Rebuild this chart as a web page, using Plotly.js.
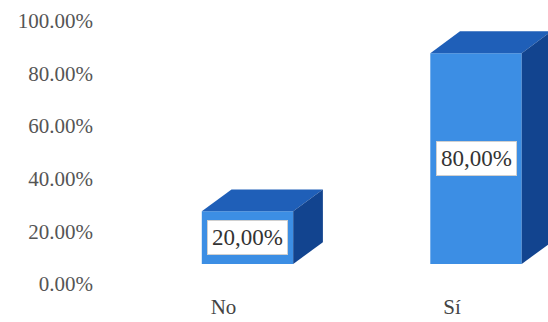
<!DOCTYPE html>
<html>
<head>
<meta charset="utf-8">
<script src="https://cdn.plot.ly/plotly-3.0.1.min.js"></script>
<style>html,body{margin:0;padding:0;background:#fff;}#chart{width:548px;height:322px;}</style>
</head>
<body>
<div id="chart"></div>
<script>
// Data
const categories = ['No', 'Sí'];
const values = [0.20, 0.80];
const valueLabels = ['20,00%', '80,00%'];

// Styling / 3D look
const barWidth = 0.4;
const depthX = 0.13;   // category units
const depthY = 0.083;  // value units
const frontColor = '#3c8ee4';
const topColor = '#1f5fb8';
const sideColor = '#12448f';

const xIdx = categories.map((c, i) => i);

const shapes = [];
xIdx.forEach((i) => {
  const v = values[i];
  const x0 = i - barWidth / 2, x1 = i + barWidth / 2;
  shapes.push({
    type: 'path', xref: 'x', yref: 'y', layer: 'above',
    path: `M ${x0} ${v} L ${x1} ${v} L ${x1 + depthX} ${v + depthY} L ${x0 + depthX} ${v + depthY} Z`,
    fillcolor: topColor, line: {width: 0}
  });
  shapes.push({
    type: 'path', xref: 'x', yref: 'y', layer: 'above',
    path: `M ${x1} 0 L ${x1} ${v} L ${x1 + depthX} ${v + depthY} L ${x1 + depthX} ${depthY} Z`,
    fillcolor: sideColor, line: {width: 0}
  });
});

const annotations = xIdx.map((i) => ({
  x: i, y: values[i] / 2, xref: 'x', yref: 'y',
  text: valueLabels[i], showarrow: false,
  bgcolor: '#ffffff', bordercolor: '#d0d0d0', borderwidth: 1, borderpad: 4,
  font: {family: 'Liberation Serif, serif', size: 23, color: '#333333'}
}));

const trace = {
  type: 'bar',
  x: xIdx,
  y: values,
  width: barWidth,
  marker: {color: frontColor, line: {width: 0}},
  hoverinfo: 'skip'
};

const layout = {
  width: 548, height: 322,
  margin: {l: 100, r: 0, t: 0, b: 58},
  paper_bgcolor: '#ffffff', plot_bgcolor: '#ffffff',
  showlegend: false,
  xaxis: {
    range: [-0.6455, 1.3151],
    tickvals: xIdx, ticktext: categories,
    showgrid: false, zeroline: false, showline: false, ticks: '',
    ticklabelshift: -24, ticklabelstandoff: 28,
    tickfont: {family: 'Liberation Serif, serif', size: 21, color: '#444444'}
  },
  yaxis: {
    range: [0, 1.002],
    tickvals: [0, 0.2, 0.4, 0.6, 0.8, 1.0], tickformat: '.2%',
    showgrid: false, zeroline: false, showline: false, ticks: '',
    ticklabelshift: 20, ticklabelstandoff: 6,
    tickfont: {family: 'Liberation Serif, serif', size: 21, color: '#555555'}
  },
  shapes: shapes,
  annotations: annotations
};

Plotly.newPlot('chart', [trace], layout, {displayModeBar: false, staticPlot: true});
</script>
</body>
</html>
